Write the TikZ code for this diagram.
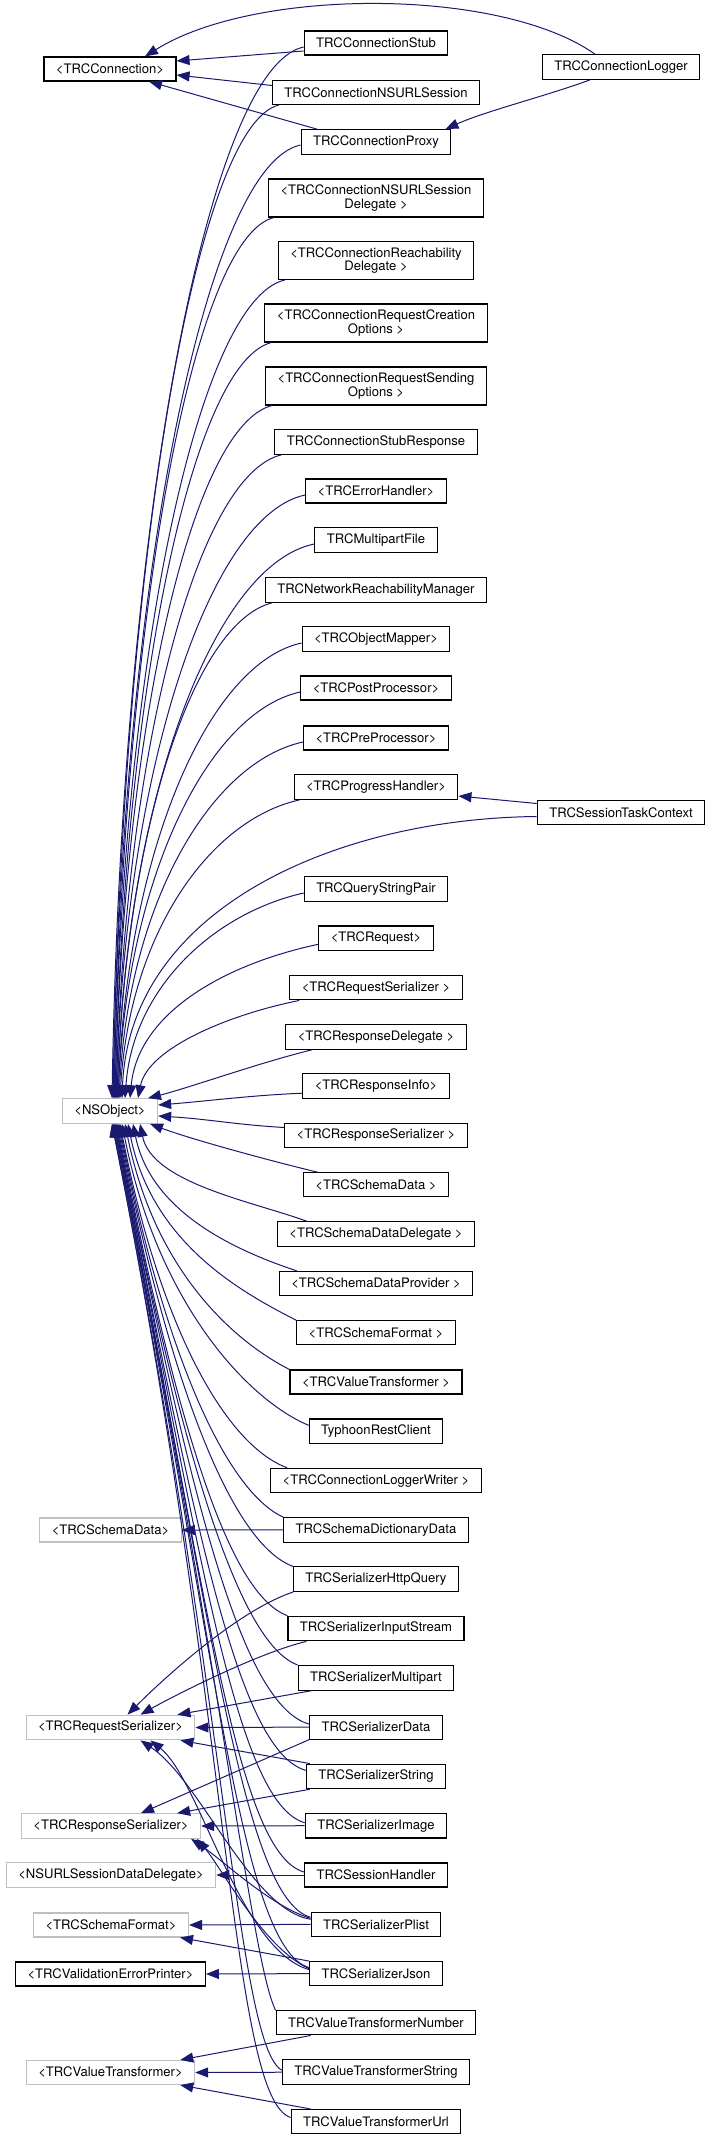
\documentclass[tikz,border=0pt]{standalone}
\usepackage{fontspec}
\setmainfont{TeX Gyre Heros}
\usetikzlibrary{arrows.meta}
\definecolor{navyc}{HTML}{191970}
\definecolor{grayb}{HTML}{BFBFBF}
\begin{document}
\begin{tikzpicture}[x=1pt,y=-1pt,
  box/.style={draw=black, line width=1.1pt, fill=white, inner xsep=12pt, inner ysep=6pt, minimum height=24pt, font=\fontsize{13.07pt}{13.3pt}\selectfont},
  gbox/.style={box, draw=grayb},
  mbox/.style={box, align=center},
  edge/.style={draw=navyc, line width=1pt, -{Triangle[length=13pt,width=10pt]}}]
\useasboundingbox (0,0) rectangle (711,2140);
% left column
\node[box]  (conn)       at (110,69)     {<TRCConnection>};
\node[gbox] (nsobj)      at (110,1111)   {<NSObject>};
\node[gbox] (schemadatal) at (110.5,1530) {<TRCSchemaData>};
\node[gbox] (reqser)     at (110.5,1727.5) {<TRCRequestSerializer>};
\node[gbox] (respser)    at (111,1826)   {<TRCResponseSerializer>};
\node[gbox] (nsurldd)    at (111,1875)   {<NSURLSessionDataDelegate>};
\node[gbox] (schemafmt)  at (111,1925)   {<TRCSchemaFormat>};
\node[box]  (valprinter) at (110.5,1974) {<TRCValidationErrorPrinter>};
\node[gbox] (valtrans)   at (110.5,2072.5) {<TRCValueTransformer>};
% far right
\node[box] (logger)  at (621,67)    {TRCConnectionLogger};
\node[box] (taskctx) at (621,812.5) {TRCSessionTaskContext};
% right column
\node[box]  (stub)      at (376,43)    {TRCConnectionStub};
\node[box]  (nsurlsess) at (376,92.5)  {TRCConnectionNSURLSession};
\node[box]  (proxy)     at (376,142)   {TRCConnectionProxy};
\node[mbox] (nsdel)     at (376,198)   {<TRCConnectionNSURLSession\\Delegate >};
\node[mbox] (reach)     at (376,260.5) {<TRCConnectionReachability\\Delegate >};
\node[mbox] (reqcre)    at (376,323)   {<TRCConnectionRequestCreation\\Options >};
\node[mbox] (reqsend)   at (376,386)   {<TRCConnectionRequestSending\\Options >};
\node[box]  (stubresp)  at (376,442)   {TRCConnectionStubResponse};
\node[box]  (errh)      at (376,491)   {<TRCErrorHandler>};
\node[box]  (multi)     at (376,540)   {TRCMultipartFile};
\node[box]  (netreach)  at (376,590)   {TRCNetworkReachabilityManager};
\node[box]  (objmap)    at (376,639)   {<TRCObjectMapper>};
\node[box]  (postp)     at (376,688)   {<TRCPostProcessor>};
\node[box]  (prep)      at (376,738)   {<TRCPreProcessor>};
\node[box]  (progh)     at (376,787)   {<TRCProgressHandler>};
\node[box]  (query)     at (376,889)   {TRCQueryStringPair};
\node[box]  (request)   at (376,938.3) {<TRCRequest>};
\node[box]  (reqserp)   at (376,987.6) {<TRCRequestSerializer >};
\node[box]  (respdel)   at (376,1036.9) {<TRCResponseDelegate >};
\node[box]  (respinfo)  at (376,1086.2) {<TRCResponseInfo>};
\node[box]  (respserp)  at (376,1135.5) {<TRCResponseSerializer >};
\node[box]  (schemadatap) at (376,1184.8) {<TRCSchemaData >};
\node[box]  (schemadel) at (376,1234.1) {<TRCSchemaDataDelegate >};
\node[box]  (schemaprov) at (376,1283.4) {<TRCSchemaDataProvider >};
\node[box]  (schemafmtp) at (376,1332.7) {<TRCSchemaFormat >};
\node[box]  (valtransp) at (376,1382)  {<TRCValueTransformer >};
\node[box]  (typhoon)   at (376,1431.3) {TyphoonRestClient};
\node[box]  (loggerw)   at (376,1480.6) {<TRCConnectionLoggerWriter >};
\node[box]  (schemadict) at (376,1529.9) {TRCSchemaDictionaryData};
\node[box]  (httpq)     at (376,1579.2) {TRCSerializerHttpQuery};
\node[box]  (inputs)    at (376,1628.5) {TRCSerializerInputStream};
\node[box]  (multip)    at (376,1677.8) {TRCSerializerMultipart};
\node[box]  (serdata)   at (376,1727.1) {TRCSerializerData};
\node[box]  (serstr)    at (376,1776.4) {TRCSerializerString};
\node[box]  (serimg)    at (376,1825.7) {TRCSerializerImage};
\node[box]  (sessh)     at (376,1875)  {TRCSessionHandler};
\node[box]  (plist)     at (376,1924.3) {TRCSerializerPlist};
\node[box]  (json)      at (376,1973.6) {TRCSerializerJson};
\node[box]  (vtnum)     at (376,2022.9) {TRCValueTransformerNumber};
\node[box]  (vtstr)     at (376,2072.2) {TRCValueTransformerString};
\node[box]  (vturl)     at (376,2121.5) {TRCValueTransformerUrl};

% edges to <TRCConnection>
\draw[edge] ([yshift=-8pt]stub.west) -- ([yshift=8pt]conn.east);
\draw[edge] ([yshift=7pt]nsurlsess.west) -- ([yshift=-6pt]conn.east);
\draw[edge] ([xshift=-59pt]proxy.north) -- ([xshift=39pt]conn.south);
\draw[edge] ([xshift=-26pt]logger.north) .. controls +(-95,-67) and +(110,-69) .. ([xshift=35pt]conn.north);
\draw[edge] ([xshift=-31pt]logger.south) .. controls +(-40,15) and +(40,-18) .. ([xshift=-6pt]proxy.north east);
\draw[edge] ([yshift=9pt]taskctx.west) -- ([yshift=-9pt]progh.east);

% edges to <NSObject> from above
\draw[edge] ([yshift=-4pt]stub.west) .. controls +(-95,20) and +(10,-579) .. ([xshift=2pt]nsobj.north);
\draw[edge] ([xshift=7pt]nsurlsess.south west) .. controls +(-82,20) and +(10,-547) .. ([xshift=3pt]nsobj.north);
\draw[edge] ([yshift=-3pt]proxy.west) .. controls +(-94,20) and +(10,-525) .. ([xshift=3pt]nsobj.north);
\draw[edge] ([xshift=6pt]nsdel.south west) .. controls +(-81,20) and +(10,-485) .. ([xshift=4pt]nsobj.north);
\draw[edge] ([xshift=7pt]reach.south west) .. controls +(-85,20) and +(10,-451) .. ([xshift=4pt]nsobj.north);
\draw[edge] ([xshift=7pt]reqcre.south west) .. controls +(-78,20) and +(10,-416) .. ([xshift=5pt]nsobj.north);
\draw[edge] ([xshift=7pt]reqsend.south west) .. controls +(-79,20) and +(10,-382) .. ([xshift=5pt]nsobj.north);
\draw[edge] ([xshift=7pt]stubresp.south west) .. controls +(-83,20) and +(10,-355) .. ([xshift=6pt]nsobj.north);
\draw[edge] ([yshift=-4pt]errh.west) .. controls +(-95,20) and +(10,-332) .. ([xshift=6pt]nsobj.north);
\draw[edge] ([yshift=-4pt]multi.west) .. controls +(-99,20) and +(10,-305) .. ([xshift=7pt]nsobj.north);
\draw[edge] ([xshift=7pt]netreach.south west) .. controls +(-78,20) and +(10,-273) .. ([xshift=7pt]nsobj.north);
\draw[edge] ([yshift=-4pt]objmap.west) .. controls +(-92,20) and +(10,-251) .. ([xshift=8pt]nsobj.north);
\draw[edge] ([yshift=-4pt]postp.west) .. controls +(-91,20) and +(10,-224) .. ([xshift=8pt]nsobj.north);
\draw[edge] ([yshift=-4pt]prep.west) .. controls +(-92,20) and +(10,-196) .. ([xshift=9pt]nsobj.north);
\draw[edge] ([xshift=6pt]progh.south west) .. controls +(-90,20) and +(10,-165) .. ([xshift=10pt]nsobj.north);
\draw[edge] ([yshift=-4pt]taskctx.west) .. controls +(-200,2) and +(8,-190) .. ([xshift=12pt]nsobj.north);
\draw[edge] ([yshift=-4pt]query.west) .. controls +(-89,20) and +(8,-111) .. ([xshift=15pt]nsobj.north);
\draw[edge] ([yshift=-6pt]request.west) .. controls +(-94,20) and +(8,-85) .. ([xshift=20pt]nsobj.north);
\draw[edge] ([xshift=10pt]reqserp.south west) .. controls +(-70,14) and +(10,-50) .. ([xshift=28pt]nsobj.north);
\draw[edge] ([xshift=27pt]respdel.south west) .. controls +(-50,12) and +(40,-10) .. ([xshift=38pt]nsobj.north);
\draw[edge] ([yshift=-7pt]respinfo.west) .. controls +(-50,2) and +(50,-4) .. ([yshift=6pt]nsobj.east);
\draw[edge] ([yshift=8pt]respserp.west) .. controls +(-50,-3) and +(50,3) .. ([yshift=-5pt]nsobj.east);
% edges to <NSObject> from below
\draw[edge] ([xshift=15pt]schemadatap.north west) .. controls +(-50,-12) and +(40,15) .. ([xshift=40pt]nsobj.south);
\draw[edge] ([xshift=30pt]schemadel.north west) .. controls +(-55,-20) and +(12,59) .. ([xshift=30pt]nsobj.south);
\draw[edge] ([xshift=18pt]schemaprov.north west) .. controls +(-60,-20) and +(18,89) .. ([xshift=23pt]nsobj.south);
\draw[edge] (schemafmtp.north west) .. controls +(-55,-28) and +(24,119) .. ([xshift=18pt]nsobj.south);
\draw[edge] (valtransp.north west) .. controls +(-55,-28) and +(30,148) .. ([xshift=15pt]nsobj.south);
\draw[edge] ([yshift=6pt]typhoon.west) .. controls +(-60,-25) and +(36,181) .. ([xshift=12pt]nsobj.south);
\draw[edge] ([xshift=17pt]loggerw.north west) .. controls +(-60,-22) and +(41,208) .. ([xshift=10pt]nsobj.south);
\draw[edge] (schemadict.north west) .. controls +(-55,-25) and +(47,237) .. ([xshift=9pt]nsobj.south);
\draw[edge] (httpq.north west) .. controls +(-60,-22) and +(53,266) .. ([xshift=8pt]nsobj.south);
\draw[edge] (inputs.north west) .. controls +(-60,-22) and +(59,296) .. ([xshift=7pt]nsobj.south);
\draw[edge] (multip.north west) .. controls +(-60,-22) and +(65,326) .. ([xshift=6pt]nsobj.south);
\draw[edge] ([yshift=3pt]serdata.west) .. controls +(-70,-20) and +(72,361) .. ([xshift=6pt]nsobj.south);
\draw[edge] ([yshift=6pt]serstr.west) .. controls +(-70,-20) and +(78,388) .. ([xshift=5pt]nsobj.south);
\draw[edge] ([yshift=3pt]serimg.west) .. controls +(-70,-20) and +(84,420) .. ([xshift=5pt]nsobj.south);
\draw[edge] ([yshift=3pt]sessh.west) .. controls +(-70,-20) and +(90,449) .. ([xshift=4pt]nsobj.south);
\draw[edge] ([yshift=7pt]plist.west) .. controls +(-70,-20) and +(95,476) .. ([xshift=4pt]nsobj.south);
\draw[edge] ([yshift=6pt]json.west) .. controls +(-70,-20) and +(101,506) .. ([xshift=3pt]nsobj.south);
\draw[edge] (vtnum.north west) .. controls +(-25,-50) and +(107,533) .. ([xshift=3pt]nsobj.south);
\draw[edge] ([yshift=2pt]vtstr.west) .. controls +(-45,-25) and +(114,568) .. ([xshift=2pt]nsobj.south);
\draw[edge] ([yshift=4pt]vturl.west) .. controls +(-60,-20) and +(119,596) .. ([xshift=2pt]nsobj.south);

% other lower edges
\draw[edge] (schemadict.west) -- (schemadatal.east);
\draw[edge] (httpq.south west) .. controls +(-60,20) and +(25,-25) .. ([xshift=17pt]reqser.north);
\draw[edge] ([xshift=19pt]inputs.south west) .. controls +(-50,12) and +(30,-17) .. ([xshift=30pt]reqser.north);
\draw[edge] ([xshift=14pt]multip.south west) -- ([xshift=-18pt]reqser.north east);
\draw[edge] (serdata.west) -- (reqser.east);
\draw[edge] ([xshift=4pt]serstr.north west) -- ([xshift=-15pt]reqser.south east);
\draw[edge] (serdata.south west) -- ([xshift=30pt]respser.north);
\draw[edge] ([xshift=4pt]serstr.south west) -- ([xshift=-24pt]respser.north east);
\draw[edge] (serimg.west) -- (respser.east);
\draw[edge] ([yshift=5pt]plist.west) .. controls +(-60,-10) and +(60,40) .. ([xshift=30pt]reqser.south);
\draw[edge] ([yshift=4pt]json.west) .. controls +(-70,-20) and +(50,40) .. ([xshift=40pt]reqser.south);
\draw[edge] ([yshift=6pt]plist.west) .. controls +(-40,-12) and +(30,20) .. ([xshift=-10pt]respser.south east);
\draw[edge] ([yshift=5pt]json.west) .. controls +(-45,-20) and +(25,30) .. ([xshift=-4pt]respser.south east);
\draw[edge] (sessh.west) -- (nsurldd.east);
\draw[edge] (plist.west) -- (schemafmt.east);
\draw[edge] (json.north west) -- ([xshift=-9pt]schemafmt.south east);
\draw[edge] (json.west) -- (valprinter.east);
\draw[edge] ([xshift=35pt]vtnum.south west) -- ([xshift=-15pt]valtrans.north east);
\draw[edge] (vtstr.west) -- (valtrans.east);
\draw[edge] ([xshift=20pt]vturl.north west) -- ([xshift=-15pt]valtrans.south east);
\end{tikzpicture}
\end{document}
